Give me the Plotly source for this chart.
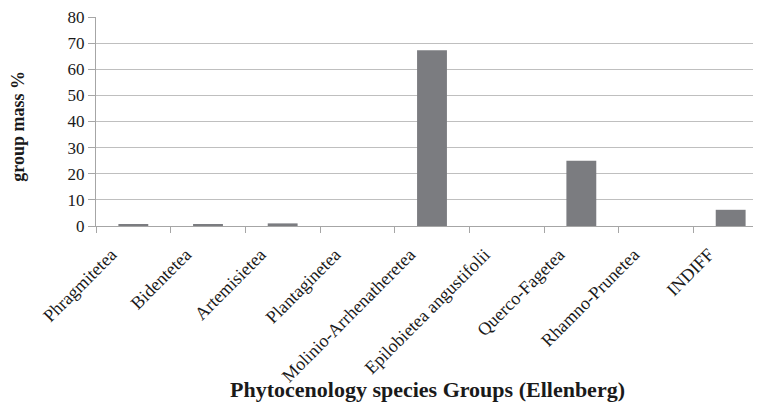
import plotly.graph_objects as go

categories = ["Phragmitetea", "Bidentetea", "Artemisietea", "Plantaginetea",
              "Molinio-Arrhenatheretea", "Epilobietea angustifolii",
              "Querco-Fagetea", "Rhamno-Prunetea", "INDIFF"]
values = [0.6, 0.6, 1.0, 0, 67.3, 0, 25, 0, 6.2]
y_ticks = [0, 10, 20, 30, 40, 50, 60, 70, 80]
x_title = "Phytocenology species Groups (Ellenberg)"
y_title = "group mass %"

font_family = "Liberation Serif, Times New Roman, serif"

fig = go.Figure()
fig.add_trace(go.Bar(x=categories, y=values, marker=dict(color="#7b7c80", line=dict(width=0)),
                     width=0.4))

fig.update_layout(
    width=761, height=405,
    margin=dict(l=88, r=1, t=9, b=187),
    paper_bgcolor="white", plot_bgcolor="white",
    font=dict(family=font_family, color="#1a1a1a", size=16),
    showlegend=False,
)
fig.add_annotation(
    text="<b>" + x_title + "</b>", xref="paper", yref="paper",
    x=0.493, y=-0.78, xanchor="center", yanchor="middle", showarrow=False,
    font=dict(size=22, family=font_family, color="#1a1a1a"),
)
fig.add_annotation(
    text="<b>" + y_title + "</b>", xref="paper", yref="paper",
    x=-0.116, y=0.475, xanchor="center", yanchor="middle", showarrow=False,
    textangle=-90, font=dict(size=18, family=font_family, color="#1a1a1a"),
)
fig.update_xaxes(
    type="category", range=[-0.5, 8.5],
    tickangle=-45, tickson="boundaries", ticks="outside", ticklen=6,
    tickcolor="#a6a6a6", showline=True, linecolor="#a6a6a6", linewidth=1,
    showgrid=False, tickfont=dict(size=18, family=font_family),
    ticklabelstandoff=10, ticklabelshift=-22,
    automargin=False,
)
fig.update_yaxes(
    range=[0, 80], tickvals=y_ticks, ticks="outside", ticklen=7,
    tickcolor="#a6a6a6", showline=True, linecolor="#a6a6a6", linewidth=1,
    showgrid=True, gridcolor="#bfbfbf", gridwidth=1, zeroline=False,
    tickfont=dict(size=17, family=font_family), ticklabeloverflow="allow",
    automargin=False,
)

fig.write_html("out.html")
